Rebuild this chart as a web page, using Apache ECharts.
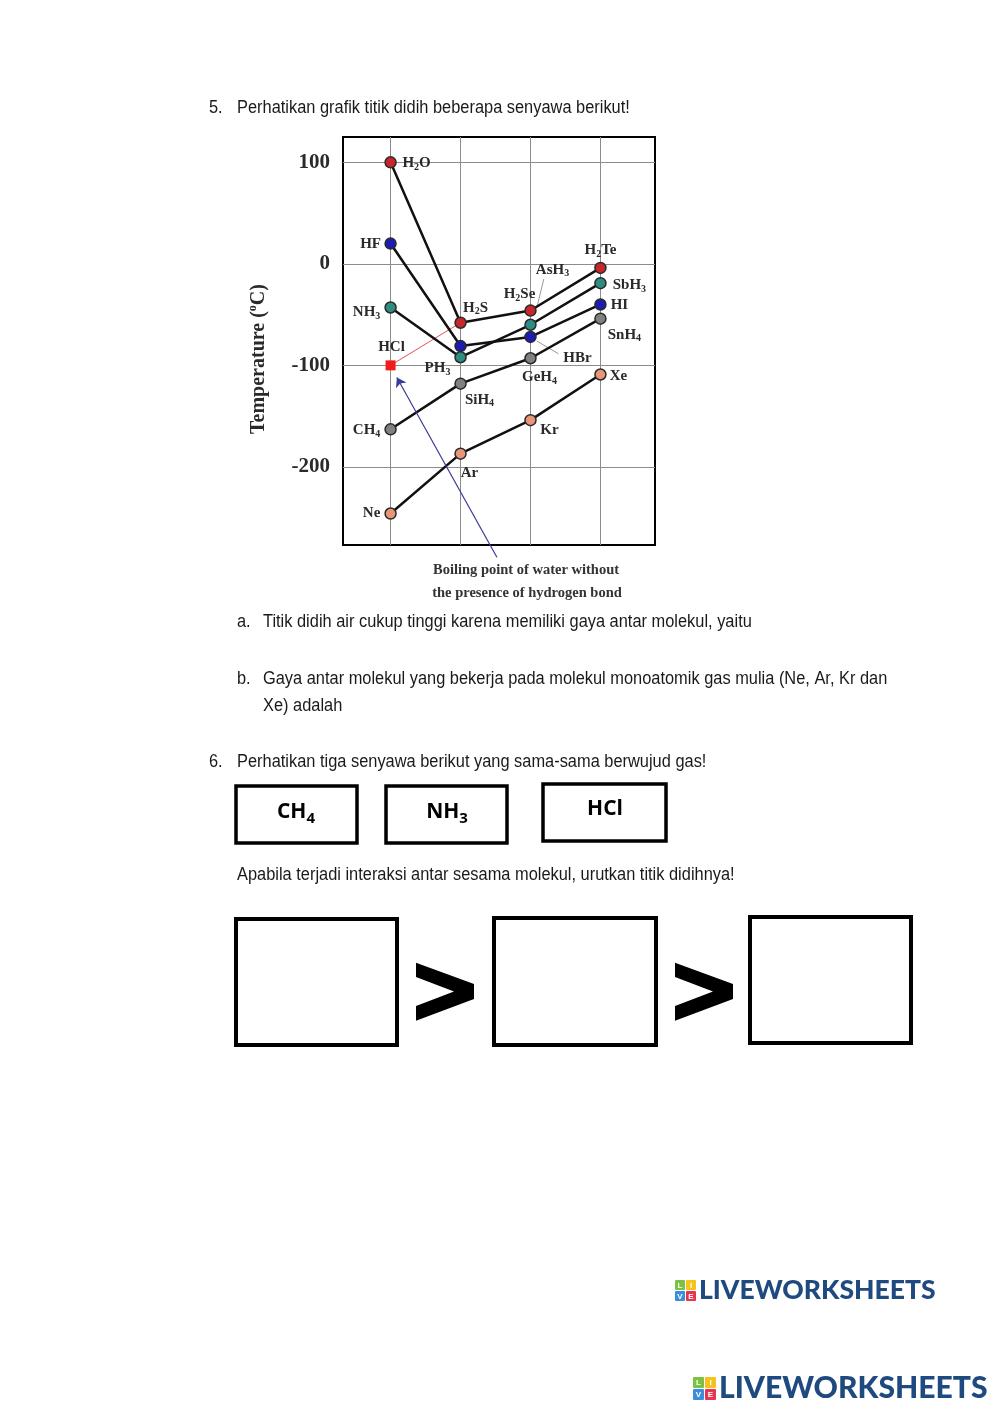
<!DOCTYPE html>
<html><head><meta charset="utf-8">
<script src="https://cdn.jsdelivr.net/npm/echarts@6/dist/echarts.min.js"></script>
<style>html,body{margin:0;padding:0;background:#fff}#c{width:1000px;height:1414px}</style>
</head><body><div id="c"></div>
<script>
// ---- data ----
const periods = [2, 3, 4, 5];
const group14Names = ['CH4', 'SiH4', 'GeH4', 'SnH4'];
const group14Values = [-163, -118, -93, -54];
const group15Names = ['NH3', 'PH3', 'AsH3', 'SbH3'];
const group15Values = [-43, -92, -60, -19];
const group16Names = ['H2O', 'H2S', 'H2Se', 'H2Te'];
const group16Values = [100, -58, -46, -4];
const group17Names = ['HF', 'HCl', 'HBr', 'HI'];
const group17Values = [20, -81, -72, -40];
const group18Names = ['Ne', 'Ar', 'Kr', 'Xe'];
const group18Values = [-246, -187, -154, -109];
const waterNoHBondPeriod = 2;
const waterNoHBondValue = -100;
const yTickValues = [100, 0, -100, -200];
const arrowAnnotation = [[3.52, -289], [2.09, -112]];
const leaderLines = [[[4.19, -15], [4.09, -43.5]], [[4.09, -76], [4.40, -88.6]]];

// ---- label placement (style, not data) ----
const labelOffsets = {
  CH4: [-24, 1], SiH4: [19, 16], GeH4: [9, 19], SnH4: [24, 16],
  NH3: [-24, 5], PH3: [-23, 11], AsH3: [22, -55], SbH3: [29, 2],
  H2O: [26, 1], H2S: [15, -15], H2Se: [-11, -16], H2Te: [0, -18],
  HF: [-20, 1], HCl: [-69, 1], HBr: [47, 21], HI: [19, 1],
  Ne: [-19, 0], Ar: [9, 19], Kr: [19, 10], Xe: [18, 2]
};

const SERIF = '"Liberation Serif", "DejaVu Serif", serif';
const SANS = '"Liberation Sans", Arial, sans-serif';
function sub(name) { return name.replace(/(\d)/g, '{s|$1}'); }

function groupSeries(names, values, color) {
  return {
    type: 'line',
    data: periods.map((p, i) => ({ value: [p, values[i]], name: names[i], label: { offset: labelOffsets[names[i]] } })),
    symbol: 'circle', symbolSize: 11,
    itemStyle: { color: color, borderColor: '#2a2a2a', borderWidth: 1.5 },
    lineStyle: { color: '#111', width: 2.5 },
    label: {
      show: true, position: 'inside', formatter: p => sub(p.name),
      fontFamily: SERIF, fontWeight: 'bold', fontSize: 15, color: '#2a2a2a', lineHeight: 18,
      rich: { s: { fontFamily: SERIF, fontWeight: 'bold', fontSize: 10, lineHeight: 10, verticalAlign: 'bottom', color: '#2a2a2a' } }
    },
    emphasis: { disabled: true }, z: 3
  };
}

const chart = echarts.init(document.getElementById('c'), null, { renderer: 'canvas' });

function t(x, y, text) {
  return { type: 'text', x: x, y: y, scaleX: 0.937, style: { text: text, font: '17.5px ' + SANS, fill: '#1a1a1a', verticalAlign: 'middle' } };
}
function box(x, y, w, h, lw) {
  return { type: 'rect', shape: { x: x, y: y, width: w, height: h }, style: { fill: 'none', stroke: '#000', lineWidth: lw } };
}
function gt(x) {
  return { type: 'polygon', shape: { points: [[x, 962.7], [x + 58, 984], [x + 58, 999], [x, 1020.7], [x, 1006], [x + 38, 991.5], [x, 977]] }, style: { fill: '#000' } };
}
function logo(x, y, s, fs, textX) {
  const cols = ['#7cc242', '#f6c21c', '#3b8fd8', '#e8344e'];
  const letters = ['L', 'I', 'V', 'E'];
  const els = [];
  for (let i = 0; i < 4; i++) {
    const cx = x + (i % 2) * (s + 1), cy = y + Math.floor(i / 2) * (s + 1);
    els.push({ type: 'rect', shape: { x: cx, y: cy, width: s, height: s, r: 1 }, style: { fill: cols[i] } });
    els.push({ type: 'text', x: cx + s / 2, y: cy + s / 2 + 0.5, style: { text: letters[i], font: 'bold ' + Math.round(s * 0.75) + 'px ' + SANS, fill: '#fff', align: 'center', verticalAlign: 'middle' } });
  }
  els.push({ type: 'text', x: textX, y: y + s + 0.5, style: { text: 'LIVEWORKSHEETS', font: '900 ' + fs + 'px Lato, "Open Sans", sans-serif', fill: '#1f4a80', verticalAlign: 'middle' } });
  return els;
}

const boxLabelRich = {
  b: { fontFamily: '"Open Sans", ' + SANS, fontWeight: 'bold', fontSize: 21, lineHeight: 28, verticalAlign: 'middle', fill: '#000', color: '#000' },
  s: { fontFamily: '"Open Sans", ' + SANS, fontWeight: 'bold', fontSize: 15, lineHeight: 15, verticalAlign: 'bottom', fill: '#000', color: '#000' }
};
function boxLabel(x, y, main, subscript) {
  return { type: 'text', x: x, y: y, style: { text: '{b|' + main + '}' + (subscript ? '{s|' + subscript + '}' : ''), rich: boxLabelRich, align: 'center', verticalAlign: 'middle' } };
}

const graphics = [
  t(209, 108, '5.'), t(237, 108, 'Perhatikan grafik titik didih beberapa senyawa berikut!'),
  { type: 'text', x: 259, y: 359, rotation: Math.PI / 2, style: { text: '{a|Temperature (}{o|o}{a|C)}', align: 'center', verticalAlign: 'middle',
    rich: { a: { fontFamily: SERIF, fontWeight: 'bold', fontSize: 20, lineHeight: 24, fill: '#2a2a2a' }, o: { fontFamily: SERIF, fontWeight: 'bold', fontSize: 12, lineHeight: 12, verticalAlign: 'top', fill: '#2a2a2a' } } } },
  { type: 'text', x: 526, y: 570, style: { text: 'Boiling point of water without', font: 'bold 14.5px ' + SERIF, fill: '#333', align: 'center', verticalAlign: 'middle' } },
  { type: 'text', x: 527, y: 593, style: { text: 'the presence of hydrogen bond', font: 'bold 14.5px ' + SERIF, fill: '#333', align: 'center', verticalAlign: 'middle' } },
  t(237, 622, 'a.'), t(263, 622, 'Titik didih air cukup tinggi karena memiliki gaya antar molekul, yaitu'),
  t(237, 679, 'b.'), t(263, 679, 'Gaya antar molekul yang bekerja pada molekul monoatomik gas mulia (Ne, Ar, Kr dan'),
  t(263, 706, 'Xe) adalah'),
  t(209, 762, '6.'), t(237, 762, 'Perhatikan tiga senyawa berikut yang sama-sama berwujud gas!'),
  box(236, 786, 121, 57, 3.5), box(386, 786, 121, 57, 3.5), box(543, 784, 123, 57, 3.5),
  boxLabel(296, 812, 'CH', '4'), boxLabel(447, 812, 'NH', '3'), boxLabel(605, 809, 'HCl', ''),
  t(237, 875, 'Apabila terjadi interaksi antar sesama molekul, urutkan titik didihnya!'),
  box(236, 919, 161, 126, 4), box(494, 918, 162, 127, 4), box(750, 917, 161, 126, 4),
  gt(416), gt(675)
].concat(logo(675, 1280, 10, 26.5, 699), logo(693, 1377, 11, 30.1, 719));

const option = {
  animation: false,
  backgroundColor: '#fff',
  grid: { left: 343, top: 137, width: 312, height: 408, show: true, borderColor: '#000', borderWidth: 2, backgroundColor: 'transparent' },
  xAxis: {
    type: 'value', min: 1.32, max: 5.78,
    axisLine: { show: false }, axisTick: { show: false, customValues: periods }, axisLabel: { show: false, customValues: periods },
    splitLine: { show: true, lineStyle: { color: '#8c8c8c', width: 1 } }
  },
  yAxis: {
    type: 'value', min: -277, max: 125,
    axisLine: { show: false }, axisTick: { show: false, customValues: yTickValues },
    axisLabel: { show: true, customValues: yTickValues, margin: 13, fontFamily: SERIF, fontWeight: 'bold', fontSize: 21, color: '#2a2a2a' },
    splitLine: { show: true, lineStyle: { color: '#8c8c8c', width: 1 } }
  },
  series: [
    {
      type: 'line',
      data: [{ value: [waterNoHBondPeriod, waterNoHBondValue], symbol: 'rect', symbolSize: 10 }, { value: [periods[1], group16Values[1]], symbol: 'none' }],
      lineStyle: { color: '#e05454', width: 1 }, itemStyle: { color: '#f01c1c' }, emphasis: { disabled: true }, z: 2
    },
    groupSeries(group14Names, group14Values, '#808080'),
    groupSeries(group15Names, group15Values, '#2e8c82'),
    groupSeries(group16Names, group16Values, '#c8262a'),
    groupSeries(group17Names, group17Values, '#1c1cb4'),
    groupSeries(group18Names, group18Values, '#e8957a'),
    {
      type: 'lines', coordinateSystem: 'cartesian2d', clip: false,
      data: [{ coords: arrowAnnotation }],
      symbol: ['none', 'arrow'], symbolSize: 9,
      lineStyle: { color: '#3a3a98', width: 1.2, opacity: 1 }, z: 4
    },
    {
      type: 'lines', coordinateSystem: 'cartesian2d', clip: false,
      data: leaderLines.map(c => ({ coords: c })),
      symbol: 'none', lineStyle: { color: '#9a9a9a', width: 1, opacity: 1 }, z: 2
    }
  ],
  graphic: graphics
};
chart.setOption(option);
</script>
</body></html>
